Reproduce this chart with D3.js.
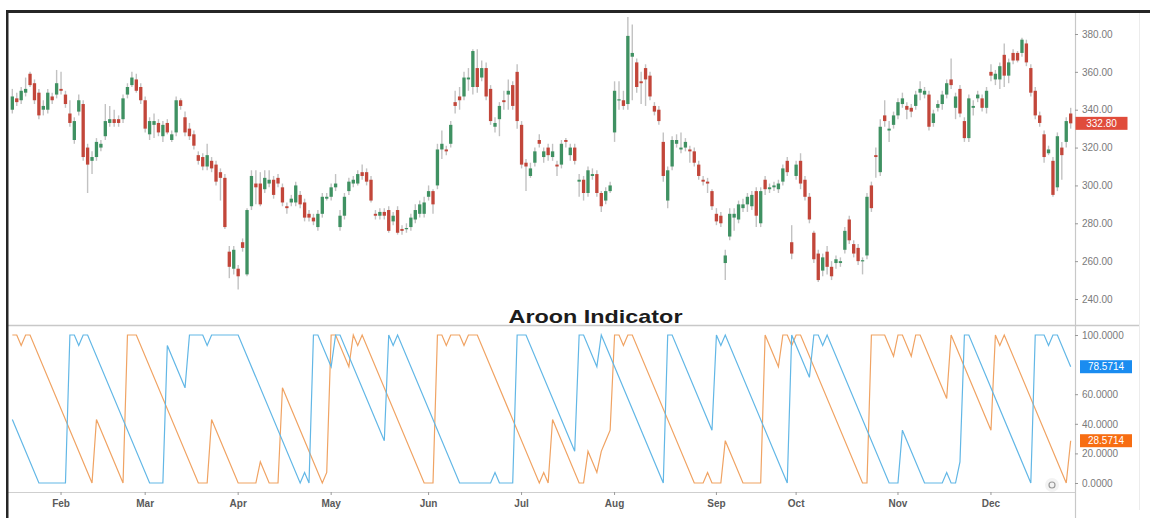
<!DOCTYPE html>
<html><head><meta charset="utf-8">
<script src="https://cdn.jsdelivr.net/npm/d3@7"></script>
<style>body{margin:0;background:#fff;} svg{display:block;font-family:"Liberation Sans",Arial,sans-serif;}</style>
</head><body><svg id="c" width="1150" height="518"></svg>
<script>
// candles: [open, high, low, close]
const candles = [
[340,351,338,347],[346,349,342,344],[345,352,343,350],[349,357,347,351],[359,360,352,353],
[354,356,343,345],[349,351,335,337],[340,345,337,342],[340,351,338,349],[347,349,343,345],
[348,361,346,354],[351,360,348,350],[348,350,341,343],[338,345,331,333],[324,336,322,334],
[339,348,337,345],[343,345,313,315],[320,322,296,311],[313,318,306,315],[315,325,313,323],
[320,324,318,322],[326,343,324,334],[333,342,331,335],[335,340,331,333],[335,337,331,333],
[335,348,333,346],[348,354,346,352],[353,360,352,357],[356,359,349,350],[352,354,343,345],
[345,347,328,330],[327,336,324,334],[332,338,325,334],[333,335,326,328],[326,334,323,332],
[333,335,327,328],[324,329,323,327],[328,347,326,345],[345,346,340,342],[336,339,326,328],
[330,333,324,326],[327,329,319,321],[316,318,311,313],[315,317,308,310],[310,322,308,316],
[313,315,307,309],[311,313,300,302],[307,309,292,304],[304,306,277,278],[265,268,251,257],
[256,268,253,266],[256,258,245,252],[270,272,265,267],[253,288,252,287],[289,308,287,305],
[301,308,290,299],[301,307,289,290],[298,308,296,304],[301,308,299,303],[303,305,293,295],
[304,306,299,301],[299,301,289,291],[289,291,285,288],[291,295,289,293],[291,302,289,300],
[295,297,288,290],[291,293,281,283],[285,287,281,283],[283,285,279,281],[278,287,276,285],
[285,296,283,294],[293,296,292,294],[294,301,292,299],[299,306,297,301],[278,287,276,284],
[284,296,282,294],[297,304,295,302],[301,305,299,303],[301,308,300,306],[307,311,303,305],
[307,309,300,302],[303,305,291,292],[285,287,282,284],[284,288,282,286],[286,288,282,284],
[287,289,275,276],[281,286,279,284],[287,289,274,275],[277,279,274,276],[277,280,275,277.5],
[278,285,276,283],[282,290,280,287],[285,292,283,290],[285,294,283,291],[294,300,292,297],
[297,298,285,290],[300,322,298,319],[319,329,314,322],[319,321,316,318],[322,334,320,332],
[344,350,338,342],[347,352,340,345],[347,360,345,357],[356,362,350,357],[352,372,348,371],
[362,372,349,352],[357,366,355,362],[362,365,345,347],[351,353,332,334],[331,336,328,333],
[335,344,326,342],[345,350,340,344],[348,356,340,350],[353,355,340,342],[360,364,330,334],
[332,334,309,311],[312,314,297,310],[305,312,304,309],[312,320,310,318],[324,327,320,322],
[315,320,312,318],[320,322,313,316],[315,322,313,318],[311,313,305,310],[311,324,309,322],
[324,325,320,323],[316,322,313,320],[320,322,311,313],[302,306,294,303],[303,305,292,296],
[296,310,294,308],[305,309,303,306],[306,308,294,296],[296,297,286,289],[292,299,290,297],
[297,302,296,300],[328,355,323,350],[345,355,340,345.5],[345,350,340,342],[343,389,340,379],
[368,385,345,370],[365,367,349,352],[355,360,343,354],[362,364,342,356],[358,360,345,347],
[342,344,337,339],[340,342,332,334],[323,328,302,305],[292,310,288,308],[310,326,308,324],
[322,327,320,324],[319,328,317,320],[320,325,318,323],[319,321,312,318],[318,320,310,312],
[311,313,303,305],[303,305,300,302],[302,304,296,301],[297,298,287,289],[285,288,279,281],
[284,286,278,280],[259,266,250,263],[273,288,271,285],[283,288,276,285],[282,292,280,290],
[288,293,286,290],[290,296,286,294],[289,297,287,295],[297,299,278,284],[280,299,278,297],
[303,305,295,298],[298,301,296,299],[299,302,297,300],[298,303,296,301],[302,311,300,309],
[313,315,305,307],[270,279,261,264],[305,313,303,311],[313,317,298,301],[303,305,292,294],
[294,296,280,282],[275,276,259,261],[264,266,249,250],[255,264,252,262],[265,268,253,257],
[257,260,250,252],[259,263,256,261],[259,262,257,260],[266,278,264,276],[282,284,269,271],
[269,271,262,264],[267,269,258,260],[260,262,253,260.5],[263,296,261,294],[300,302,286,288],
[316,320,304,315],[307,335,305,331],[337,345,331,334],[329,334,323,330],[332,339,330,337],
[337,346,335,344],[343,349,341,346],[342,344,335,340],[341,343,336,339],[342,350,340,348],
[349,355,345,351],[348,352,346,350],[348,350,329,331],[333,340,331,338],[341,345,339,343],
[343,350,340,348],[348,356,346,354],[356,367,351,353],[341,349,335,347],[351,353,336,338],
[334,336,323,325],[325,348,323,346],[341,345,337,342],[346,350,344,348],[346,348,339,341],
[341,352,338,350],[360,364,355,358],[356,361,353,359],[356,365,351,363],[369,375,352,358],
[358,367,354,365],[370,372,364,366],[370,371,365,366],[370,378,368,377],[375,377,363,365],
[362,364,347,349],[350,352,335,337],[337,339,331,333],[327,329,312,315],[317,321,316,319],
[313,315,294,295],[299,328,297,326],[320,323,303,316],[323,336,320,334],[338,341,330,332.8]
];
// Aroon vertices: [bar index, value]
const aroonUp = [
[0,42.9],[6,0],[12,0],[13,100],[14,100],[15,92.9],[16,100],[17,100],[31,0],[34,0],[35,92.9],
[39,64.3],[40,100],[43,100],[44,92.9],[45,100],[51,100],[65,0],[66,7.1],[67,0],[68,100],[69,100],
[72,78.6],[73,100],[74,100],[84,28.6],[85,100],[86,92.9],[87,100],[101,0],[108,0],[109,7.1],[110,0],
[113,0],[114,100],[116,100],[127,21.4],[128,100],[129,100],[132,78.6],[133,100],[147,0],[148,100],
[149,100],[158,35.7],[159,100],[160,92.9],[161,100],[175,0],[176,100],[180,71.4],[181,100],[182,100],
[183,92.9],[184,100],[198,0],[200,0],[201,35.7],[206,0],[210,0],[211,7.1],[212,0],[213,0],[214,14.3],
[215,100],[216,100],[230,0],[231,100],[233,100],[234,92.9],[235,100],[236,100],[239,78.5714]
];
const aroonDown = [
[0,100],[1,100],[2,92.9],[3,100],[4,100],[18,0],[19,42.9],[25,0],[26,100],[28,100],[42,0],[44,0],
[45,42.9],[51,0],[55,0],[56,14.3],[58,0],[60,0],[61,64.3],[70,0],[71,7.1],[72,100],[73,100],[76,78.6],
[77,100],[78,92.9],[79,100],[93,0],[95,0],[96,100],[97,100],[98,92.9],[99,100],[101,100],[102,92.9],
[103,100],[105,100],[119,0],[120,7.1],[121,0],[122,42.9],[128,0],[129,0],[130,21.4],[131,14.3],
[132,7.1],[133,21.4],[134,28.6],[135,35.7],[136,100],[137,100],[138,92.9],[139,100],[140,100],
[154,0],[156,0],[157,7.1],[158,0],[160,0],[161,28.6],[165,0],[169,0],[170,100],[173,78.6],[174,100],
[175,100],[176,92.9],[177,100],[178,100],[192,0],[193,0],[194,100],[197,100],[199,85.7],[200,100],
[201,100],[203,85.7],[204,100],[205,100],[211,57.1],[212,100],[221,35.7],[222,100],[223,92.9],
[224,100],[238,0],[239,28.5714]
];
const monthLabels = ["Feb","Mar","Apr","May","Jun","Jul","Aug","Sep","Oct","Nov","Dec"];
const monthTickIdx = [11,30,51,72,94,115,136,159,177,200,221];
const priceTicks = [240,260,280,300,320,340,360,380];
const aroonTicks = [0,20,40,60,100];
const lastUp = 78.5714, lastDown = 28.5714;
const titleText = "Aroon Indicator";

const svg = d3.select("#c");
const UP="#3f9162", DOWN="#c2463a", WICK="#c2c2c2";
const BLUE="#62b7e6", ORANGE="#f0a363";

const x = d3.scaleBand().domain(d3.range(candles.length)).range([10,1073]).paddingInner(0.25).paddingOuter(0.15);
const cx = i => x(i) + x.bandwidth()/2;
const yP = d3.scaleLinear().domain([240,380]).range([299,34]);
const yA = d3.scaleLinear().domain([0,100]).range([483,335]);

// frame
svg.append("rect").attr("x",0).attr("y",0).attr("width",1150).attr("height",518).attr("fill","#fff");
svg.append("line").attr("x1",8).attr("x2",1139).attr("y1",325.5).attr("y2",325.5).attr("stroke","#c8c8c8").attr("stroke-width",1.5);
svg.append("line").attr("x1",8).attr("x2",1075).attr("y1",492.5).attr("y2",492.5).attr("stroke","#cfcfcf").attr("stroke-width",1.2);
svg.append("line").attr("x1",1075.5).attr("x2",1075.5).attr("y1",12).attr("y2",518).attr("stroke","#c8c8c8").attr("stroke-width",1.2);
svg.append("line").attr("x1",1139.5).attr("x2",1139.5).attr("y1",12).attr("y2",510).attr("stroke","#ececec").attr("stroke-width",1);

// candles
const gC = svg.append("g");
gC.selectAll("line.w").data(candles).join("line").attr("class","w")
  .attr("x1",(d,i)=>cx(i)).attr("x2",(d,i)=>cx(i))
  .attr("y1",d=>yP(d[1])).attr("y2",d=>yP(d[2]))
  .attr("stroke",WICK).attr("stroke-width",1.4);
gC.selectAll("rect").data(candles).join("rect")
  .attr("x",(d,i)=>x(i)).attr("width",x.bandwidth())
  .attr("y",d=>yP(Math.max(d[0],d[3])))
  .attr("height",d=>Math.max(1.2, Math.abs(yP(d[0])-yP(d[3]))))
  .attr("fill",d=>d[3]>=d[0]?UP:DOWN);

// aroon lines
const line = d3.line().x(d=>cx(d[0])).y(d=>yA(d[1]));
svg.append("path").datum(aroonDown).attr("d",line).attr("fill","none").attr("stroke",ORANGE).attr("stroke-width",1.2);
svg.append("path").datum(aroonUp).attr("d",line).attr("fill","none").attr("stroke",BLUE).attr("stroke-width",1.2);

// title
svg.append("text").attr("x",595.5).attr("y",323).attr("text-anchor","middle")
  .attr("font-size",19).attr("font-weight","bold").attr("fill","#1c1c1c")
  .attr("textLength",174).attr("lengthAdjust","spacingAndGlyphs").text(titleText);

// axes
function styleAxis(g){
  g.select(".domain").remove();
  g.selectAll(".tick line").attr("stroke","#999");
  g.selectAll(".tick text").attr("fill","#7a7a7a").attr("font-size",10).attr("font-family","Liberation Sans, Arial, sans-serif");
}
svg.append("g").attr("transform","translate(1075,0)")
  .call(d3.axisRight(yP).tickValues(priceTicks).tickFormat(d3.format(".2f")).tickSize(3).tickPadding(4))
  .call(styleAxis);
svg.append("g").attr("transform","translate(1075,0)")
  .call(d3.axisRight(yA).tickValues(aroonTicks).tickFormat(d3.format(".4f")).tickSize(3).tickPadding(4))
  .call(styleAxis);
svg.append("g").attr("transform","translate(0,492)")
  .call(d3.axisBottom(x).tickValues(monthTickIdx).tickFormat(d=>monthLabels[monthTickIdx.indexOf(d)]).tickSize(3).tickPadding(5))
  .call(styleAxis)
  .call(g=>g.selectAll(".tick text").attr("fill","#5a5a5a").attr("font-weight","bold"));

// badges
function badge(yv, txt, color, x0, w){
  const g = svg.append("g");
  g.append("rect").attr("x",x0).attr("y",yv-6.5).attr("width",w).attr("height",13).attr("fill",color);
  g.append("text").attr("x",x0+w/2).attr("y",yv+3.6).attr("text-anchor","middle")
   .attr("font-size",10).attr("fill","#fff").text(txt);
}
const lastClose = candles[candles.length-1][3];
badge(yP(lastClose), d3.format(".2f")(lastClose), "#e04c3b", 1075.5, 52);
badge(yA(lastUp), d3.format(".4f")(lastUp), "#1a8cf0", 1080, 52);
badge(yA(lastDown), d3.format(".4f")(lastDown), "#f76d12", 1080, 52);

// small settings icon
svg.append("circle").attr("cx",1052).attr("cy",485).attr("r",7).attr("fill","#f3f3f3");
svg.append("circle").attr("cx",1052).attr("cy",485).attr("r",3).attr("fill","none").attr("stroke","#9a9a9a").attr("stroke-width",1.2);

// outer dark borders
svg.append("rect").attr("x",6).attr("y",10).attr("width",1144).attr("height",3).attr("fill","#262626");
svg.append("rect").attr("x",6).attr("y",10).attr("width",2.5).attr("height",508).attr("fill","#262626");
</script></body></html>
